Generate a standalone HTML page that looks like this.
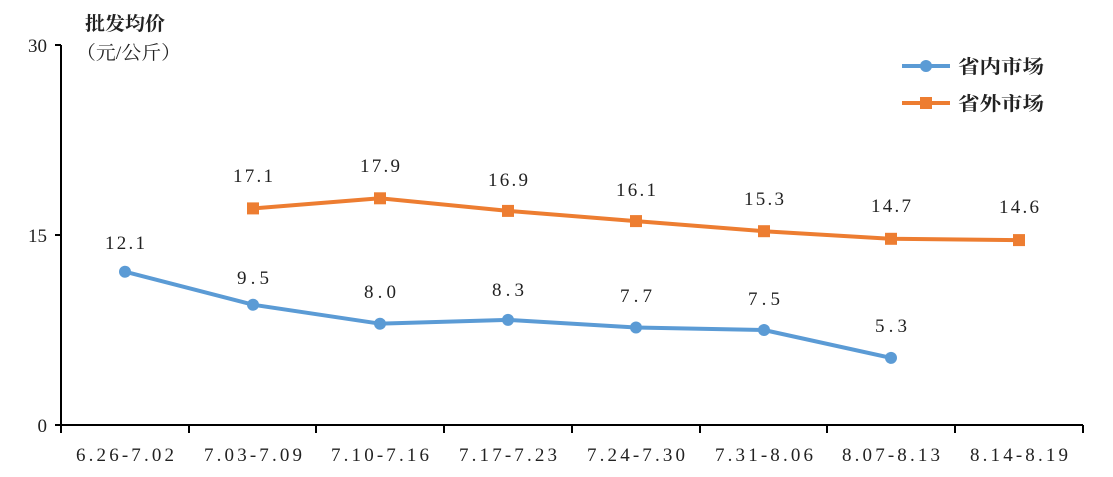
<!DOCTYPE html>
<html><head><meta charset="utf-8"><style>
html,body{margin:0;padding:0;background:#fff;}
svg{display:block;}
text{font-family:"Liberation Serif","Noto Serif CJK SC",serif;fill:#222;}
</style></head><body>
<svg width="1113" height="477" viewBox="0 0 1113 477">
<g stroke="#000" stroke-width="2" fill="none">
<line x1="61" y1="45" x2="61" y2="426"/>
<line x1="60" y1="425" x2="1083" y2="425"/>
<line x1="55" y1="45" x2="61" y2="45"/>
<line x1="55" y1="235" x2="61" y2="235"/>
<line x1="55" y1="425" x2="61" y2="425"/>
<line x1="61" y1="425" x2="61" y2="433"/>
<line x1="189" y1="425" x2="189" y2="433"/>
<line x1="316" y1="425" x2="316" y2="433"/>
<line x1="444" y1="425" x2="444" y2="433"/>
<line x1="572" y1="425" x2="572" y2="433"/>
<line x1="700" y1="425" x2="700" y2="433"/>
<line x1="827" y1="425" x2="827" y2="433"/>
<line x1="955" y1="425" x2="955" y2="433"/>
<line x1="1083" y1="425" x2="1083" y2="433"/>
</g>
<g font-size="19" text-anchor="end">
<text x="47" y="52">30</text>
<text x="47" y="242">15</text>
<text x="47" y="432">0</text>
</g>
<text x="85" y="30" font-size="19" font-weight="bold" textLength="80" lengthAdjust="spacingAndGlyphs">批发均价</text>
<text x="76" y="59" font-size="19" textLength="105" lengthAdjust="spacingAndGlyphs">（元/公斤）</text>
<g font-size="19" text-anchor="middle">
<text x="125" y="461" textLength="98" lengthAdjust="spacing">6.26-7.02</text>
<text x="253" y="461" textLength="98" lengthAdjust="spacing">7.03-7.09</text>
<text x="380" y="461" textLength="98" lengthAdjust="spacing">7.10-7.16</text>
<text x="508" y="461" textLength="98" lengthAdjust="spacing">7.17-7.23</text>
<text x="636" y="461" textLength="98" lengthAdjust="spacing">7.24-7.30</text>
<text x="764" y="461" textLength="98" lengthAdjust="spacing">7.31-8.06</text>
<text x="891" y="461" textLength="98" lengthAdjust="spacing">8.07-8.13</text>
<text x="1019" y="461" textLength="98" lengthAdjust="spacing">8.14-8.19</text>
</g>
<polyline fill="none" stroke="#5B9BD5" stroke-width="4" stroke-linejoin="round" points="125,271.7 253,304.7 380,323.7 508,319.9 636,327.5 764,330 891,357.9"/>
<g fill="#5B9BD5">
<circle cx="125" cy="271.7" r="6"/><circle cx="253" cy="304.7" r="6"/><circle cx="380" cy="323.7" r="6"/><circle cx="508" cy="319.9" r="6"/><circle cx="636" cy="327.5" r="6"/><circle cx="764" cy="330" r="6"/><circle cx="891" cy="357.9" r="6"/>
</g>
<polyline fill="none" stroke="#ED7D31" stroke-width="4" stroke-linejoin="round" points="253,208.4 380,198.3 508,210.9 636,221.1 764,231.2 891,238.8 1019,240.1"/>
<g fill="#ED7D31">
<rect x="247" y="202.4" width="12" height="12"/><rect x="374" y="192.3" width="12" height="12"/><rect x="502" y="204.9" width="12" height="12"/><rect x="630" y="215.1" width="12" height="12"/><rect x="758" y="225.2" width="12" height="12"/><rect x="885" y="232.8" width="12" height="12"/><rect x="1013" y="234.1" width="12" height="12"/>
</g>
<g font-size="19" text-anchor="middle">
<text x="125" y="249" textLength="40" lengthAdjust="spacing">12.1</text>
<text x="253" y="284" textLength="32" lengthAdjust="spacing">9.5</text>
<text x="380" y="298" textLength="32" lengthAdjust="spacing">8.0</text>
<text x="508" y="296" textLength="32" lengthAdjust="spacing">8.3</text>
<text x="636" y="302" textLength="32" lengthAdjust="spacing">7.7</text>
<text x="764" y="305" textLength="32" lengthAdjust="spacing">7.5</text>
<text x="891" y="332" textLength="32" lengthAdjust="spacing">5.3</text>
<text x="253" y="182" textLength="40" lengthAdjust="spacing">17.1</text>
<text x="380" y="172" textLength="40" lengthAdjust="spacing">17.9</text>
<text x="508" y="186" textLength="40" lengthAdjust="spacing">16.9</text>
<text x="636" y="196" textLength="40" lengthAdjust="spacing">16.1</text>
<text x="764" y="205" textLength="40" lengthAdjust="spacing">15.3</text>
<text x="891" y="212" textLength="40" lengthAdjust="spacing">14.7</text>
<text x="1019" y="213" textLength="40" lengthAdjust="spacing">14.6</text>
</g>
<line x1="902" y1="66" x2="950" y2="66" stroke="#5B9BD5" stroke-width="4"/>
<circle cx="926" cy="66" r="6" fill="#5B9BD5"/>
<text x="958" y="73" font-size="19" font-weight="bold" textLength="86" lengthAdjust="spacingAndGlyphs">省内市场</text>
<line x1="902" y1="103" x2="950" y2="103" stroke="#ED7D31" stroke-width="4"/>
<rect x="920" y="97" width="12" height="12" fill="#ED7D31"/>
<text x="958" y="110" font-size="19" font-weight="bold" textLength="86" lengthAdjust="spacingAndGlyphs">省外市场</text>
</svg>
</body></html>
